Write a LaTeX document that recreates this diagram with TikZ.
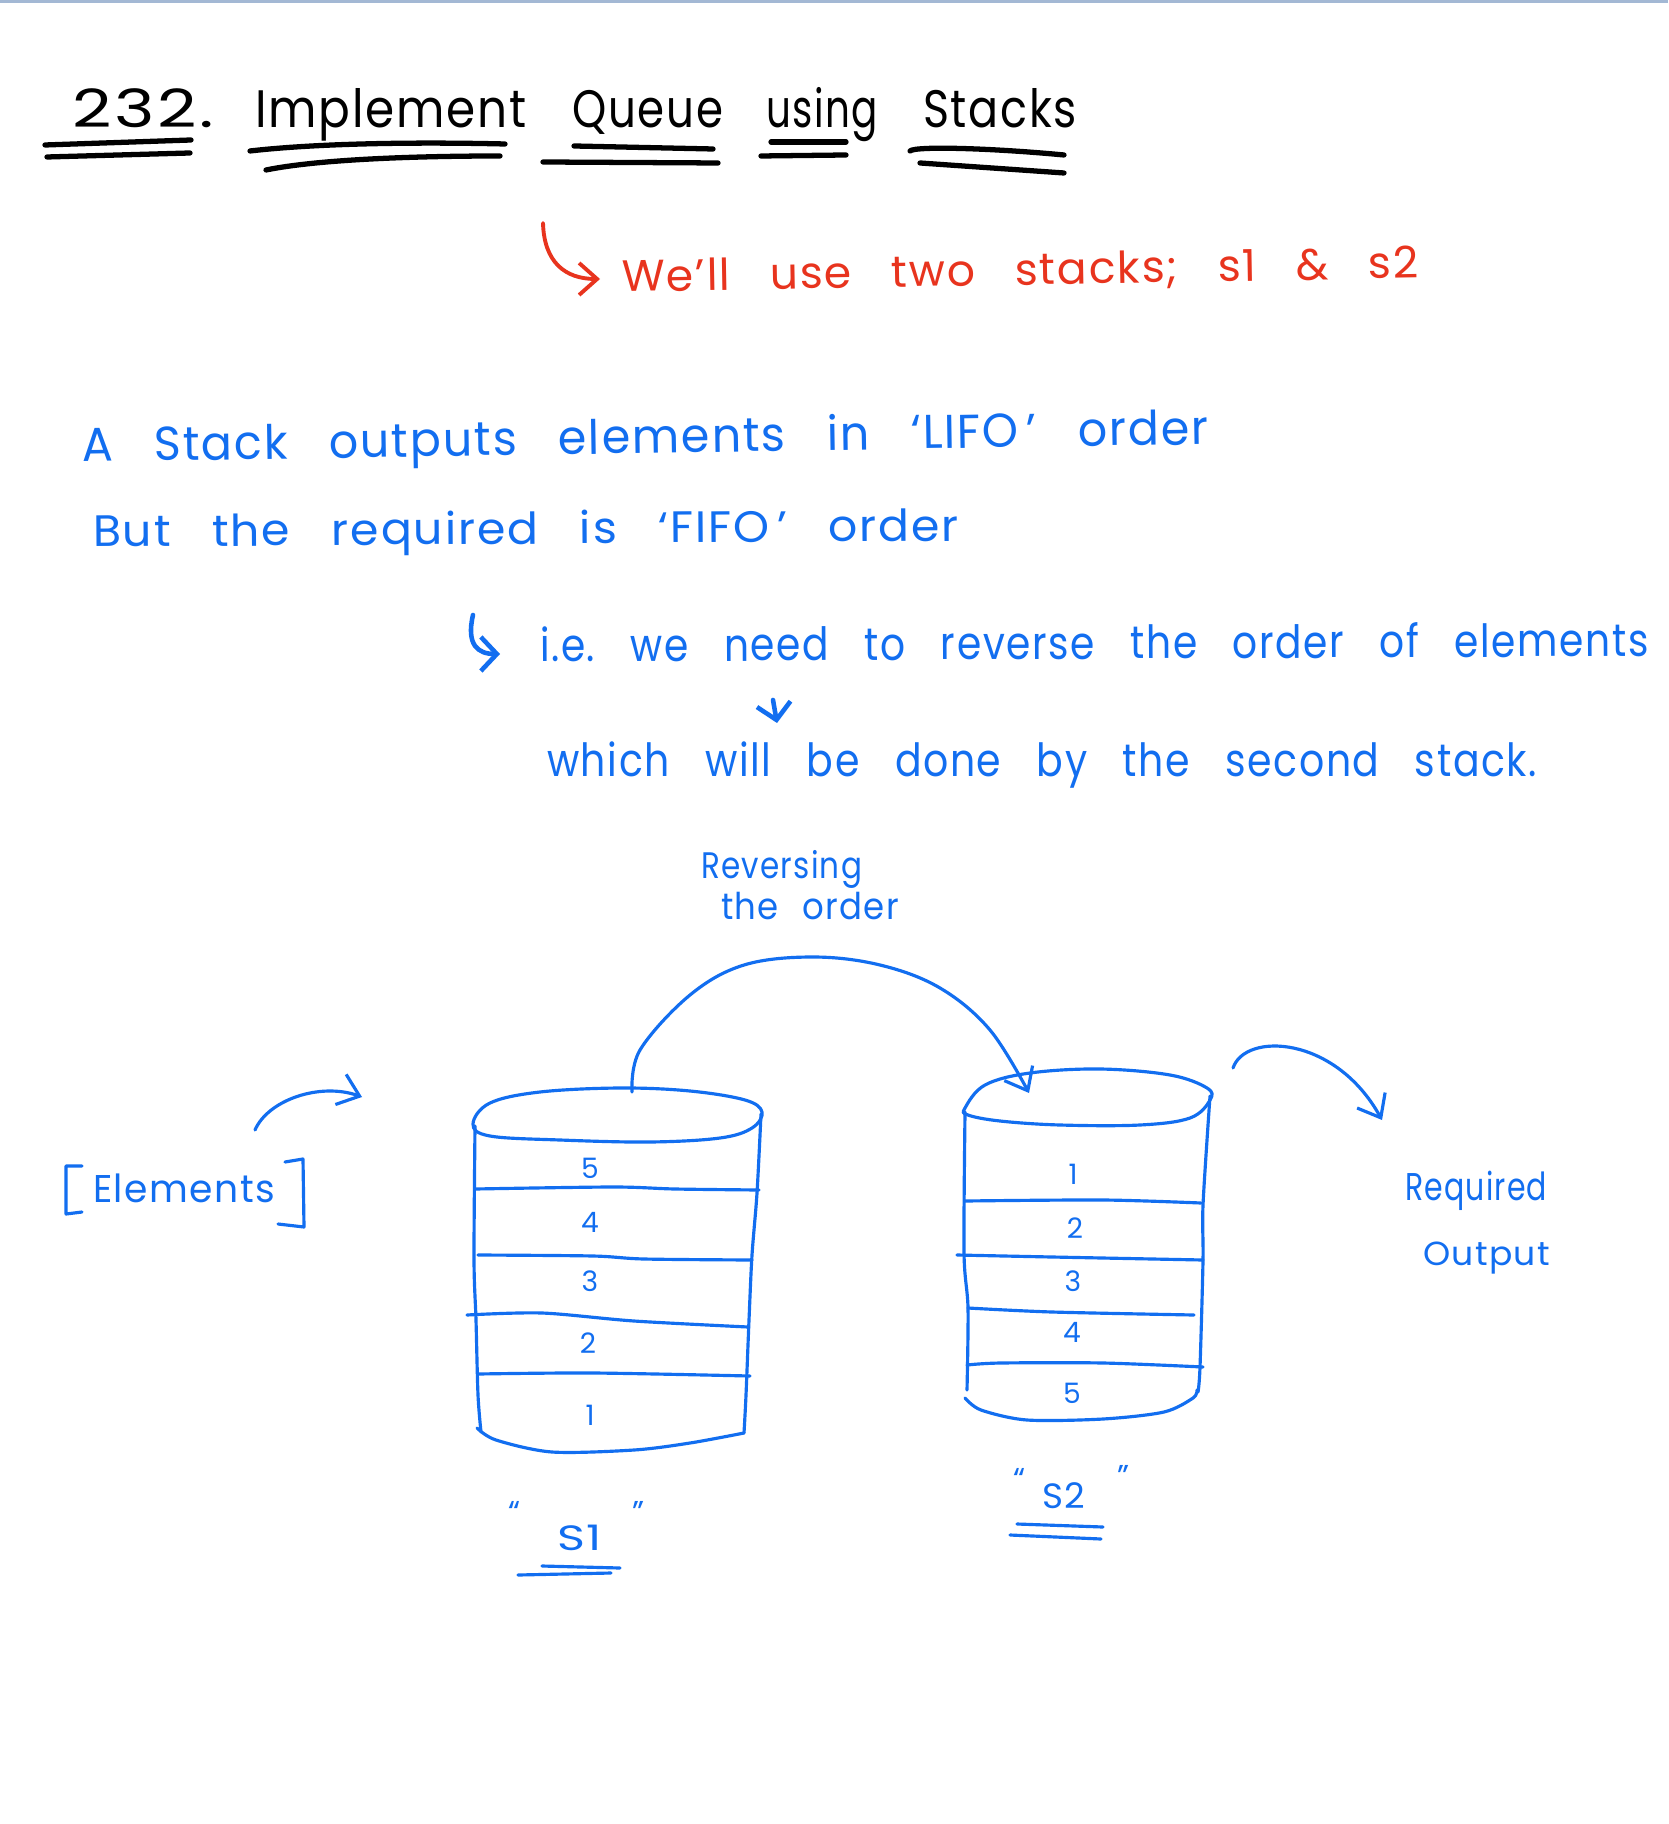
\documentclass[tikz,border=0pt]{standalone}
\usepackage{fontspec}
\usepackage{graphicx}
\usetikzlibrary{arrows.meta}
\newfontfamily\hand[LetterSpace=4]{Poppins}
\definecolor{inkblue}{RGB}{18,110,240}
\definecolor{inkred}{RGB}{232,52,30}
\definecolor{topline}{RGB}{163,184,212}
\newsavebox\fitbox
\newcommand\fitto[2]{\sbox\fitbox{#2}\pgfmathsetmacro\fitratio{#1*0.28453/\the\wd\fitbox}\scalebox{\fitratio}[1]{\usebox\fitbox}}
\newcommand\wg{\hspace{0.9em}}
\tikzset{
  txt/.style={inner sep=0pt, outer sep=0pt, anchor=base west},
  ttl/.style={txt, text=black, font=\hand\fontsize{15}{18}\selectfont},
  redtxt/.style={txt, text=inkred, font=\hand\fontsize{12.5}{15}\selectfont},
  bigblue/.style={txt, text=inkblue, font=\hand\fontsize{13.5}{16}\selectfont},
  smallblue/.style={txt, text=inkblue, font=\hand\fontsize{10.5}{13}\selectfont},
  digit/.style={inner sep=0pt, anchor=center, text=inkblue, font=\hand\fontsize{8}{10}\selectfont},
  uline/.style={draw=black, line width=1.5pt, line cap=round},
  cyl/.style={draw=inkblue, line width=0.9pt, line cap=round, line join=round},
  conn/.style={draw=inkblue, line width=0.9pt, line cap=round, -{Straight Barb[length=2mm,width=3.2mm]}},
  thick conn/.style={draw=inkblue, line width=1.3pt, line cap=round, -{Straight Barb[length=1.6mm,width=3.4mm]}},
}
\begin{document}
\begin{tikzpicture}[x=0.1mm, y=-0.1mm]
\useasboundingbox (0,0) rectangle (1668,1824);
\fill[white] (0,0) rectangle (1668,1824);
\fill[topline] (0,0) rectangle (1668,3);

% ---------- title ----------
\node[ttl] (t232) at (72,128) {\fitto{142}{232.}};
\node[ttl] (timpl) at (255,128) {\fitto{272}{Implement}};
\node[ttl] (tqueue) at (572,128) {\fitto{151}{Queue}};
\node[ttl] (tusing) at (766,128) {\fitto{112}{using}};
\node[ttl] (tstacks) at (923,128) {\fitto{154}{Stacks}};

\draw[uline] (45,145) -- (191,140);
\draw[uline] (47,157) -- (190,153);
\draw[uline] (250,151) .. controls (320,143) and (420,142) .. (505,144);
\draw[uline] (266,170) .. controls (320,159) and (420,156) .. (500,156);
\draw[uline] (574,146) -- (713,149);
\draw[uline] (543,162) -- (718,163);
\draw[uline] (771,142) -- (846,142);
\draw[uline] (761,156) -- (846,155);
\draw[uline] (910,151) .. controls (915,146) and (990,148) .. (1064,155);
\draw[uline] (920,163) -- (1064,173);

% ---------- red note ----------
\node[redtxt, rotate=1] (red) at (622,292) {\fitto{797}{We’ll\wg use\wg two\wg stacks;\wg s1\wg \&\wg s2}};
\coordinate (redstart) at (543,223);
\coordinate (redend) at (600,279);
\draw[draw=inkred, line width=1.1pt, line cap=round, -{Straight Barb[length=1.8mm,width=3.2mm]}]
  (redstart) .. controls (544,262) and (565,279) .. (redend);

% ---------- blue explanation ----------
\node[bigblue, rotate=0.9] (l1) at (82,462) {\fitto{1127}{A\wg Stack\wg outputs\wg elements\wg in\wg ‘LIFO\,’\wg order}};
\node[bigblue, rotate=0.4, font=\hand\fontsize{12.5}{15}\selectfont] (l2) at (93,547) {\fitto{866}{But\wg the\wg required\wg is\wg ‘FIFO\,’\wg order}};
\node[bigblue, rotate=0.3, font=\hand\fontsize{13}{15}\selectfont] (l3) at (540,662) {\fitto{1109}{i.e.\wg we\wg need\wg to\wg reverse\wg the\wg order\wg of\wg elements}};
\node[bigblue, font=\hand\fontsize{13}{15}\selectfont] (l4) at (547,777) {\fitto{990}{which\wg will\wg be\wg done\wg by\wg the\wg second\wg stack.}};

\coordinate (hookstart) at (473,615);
\coordinate (hookend) at (500,654);
\draw[thick conn] (hookstart) .. controls (466,645) and (478,654) .. (hookend);
\coordinate (downstart) at (773,700);
\coordinate (downend) at (777,723);
\draw[thick conn] (downstart) -- (downend);

% ---------- stack S1 ----------
\draw[cyl] plot[smooth cycle, tension=0.6] coordinates {(473,1124) (490,1103) (540,1092) (620,1088) (690,1091) (745,1100) (762,1112) (752,1128) (720,1138) (650,1142) (560,1140) (490,1136)};
\draw[cyl] plot[smooth] coordinates {(475,1126) (474,1260) (476,1320) (478,1395) (481,1432)};
\draw[cyl] plot[smooth] coordinates {(761,1114) (757,1193) (752,1255) (749,1320) (746,1395) (744,1433)};
\draw[cyl] plot[smooth] coordinates {(477,1428) (496,1440) (552,1452) (634,1450) (690,1443) (744,1433)};
\draw[cyl] plot[smooth] coordinates {(475,1189) (613,1187) (675,1189) (759,1190)};
\draw[cyl] plot[smooth] coordinates {(478,1255) (593,1256) (644,1259) (752,1260)};
\draw[cyl] plot[smooth] coordinates {(467,1315) (542,1313) (634,1321) (748,1327)};
\draw[cyl] plot[smooth] coordinates {(478,1374) (593,1373) (750,1376)};
\node[digit] (a5) at (590,1168) {5};
\node[digit] (a4) at (590,1222) {4};
\node[digit] (a3) at (590,1281) {3};
\node[digit] (a2) at (588,1343) {2};
\node[digit] (a1) at (590,1415) {1};

% ---------- stack S2 ----------
\draw[cyl] plot[smooth cycle, tension=0.6] coordinates {(965,1108) (985,1085) (1030,1073) (1100,1069) (1170,1075) (1207,1088) (1210,1100) (1190,1118) (1140,1125) (1060,1125) (1000,1121) (968,1115)};
\draw[cyl] plot[smooth] coordinates {(965,1112) (964,1253) (968,1308) (967,1390)};
\draw[cyl] plot[smooth] coordinates {(1210,1096) (1203,1205) (1203,1260) (1200,1367) (1198,1392)};
\draw[cyl] plot[smooth] coordinates {(965,1398) (981,1410) (1027,1420) (1103,1419) (1164,1412) (1193,1398) (1197,1390)};
\draw[cyl] plot[smooth] coordinates {(965,1201) (1103,1200) (1201,1203)};
\draw[cyl] plot[smooth] coordinates {(957,1255) (1052,1257) (1203,1260)};
\draw[cyl] plot[smooth] coordinates {(968,1308) (1052,1312) (1194,1315)};
\draw[cyl] plot[smooth] coordinates {(967,1365) (1001,1363) (1103,1363) (1203,1367)};
\node[digit] (b1) at (1073,1174) {1};
\node[digit] (b2) at (1075,1228) {2};
\node[digit] (b3) at (1073,1281) {3};
\node[digit] (b4) at (1072,1332) {4};
\node[digit] (b5) at (1072,1393) {5};

% ---------- reversing arc ----------
\coordinate (s1top) at (632,1092);
\coordinate (s2top) at (1029,1093);
\draw[conn] plot[smooth, tension=0.6] coordinates {(s1top) (640,1050) (690,995) (744,965) (813,957) (880,965) (940,988) (990,1030) (s2top)};
\node[smallblue] (rev1) at (701,878) {\fitto{161}{Reversing}};
\node[smallblue] (rev2) at (721,919) {\fitto{178}{the\hspace{0.7em}order}};

% ---------- elements ----------
\node[smallblue, font=\hand\fontsize{11}{13}\selectfont] (elem) at (93,1202) {\fitto{182}{Elements}};
\draw[cyl] (82,1166) -- (66,1166) -- (66,1214) -- (82,1212);
\draw[cyl] (285,1162) -- (303,1159) -- (304,1227) -- (278,1224);
\coordinate (elemarr) at (255,1130);
\coordinate (s1in) at (362,1097);
\draw[conn] (elemarr) .. controls (268,1100) and (320,1082) .. (s1in);

% ---------- required output ----------
\node[smallblue, font=\hand\fontsize{11}{13}\selectfont] (req) at (1405,1200) {\fitto{142}{Required}};
\node[smallblue, font=\hand\fontsize{9.5}{12}\selectfont] (out) at (1423,1265) {\fitto{127}{Output}};
\coordinate (s2out) at (1233,1068);
\coordinate (reqin) at (1382,1120);
\draw[conn] (s2out) .. controls (1245,1032) and (1335,1035) .. (reqin);

% ---------- labels ----------
\node[smallblue, font=\hand\fontsize{10}{12}\selectfont] (s1lab) at (557,1550) {\fitto{45}{S1}};
\node[smallblue, font=\hand\fontsize{9}{10}\selectfont, anchor=center] (s1q1) at (514,1512) {“};
\node[smallblue, font=\hand\fontsize{9}{10}\selectfont, anchor=center] (s1q2) at (638,1512) {”};
\draw[cyl] (542,1566) -- (620,1568);
\draw[cyl] (518,1575) -- (611,1573);
\node[smallblue, font=\hand\fontsize{10}{12}\selectfont] (s2lab) at (1042,1508) {\fitto{43}{S2}};
\node[smallblue, font=\hand\fontsize{9}{10}\selectfont, anchor=center] (s2q1) at (1019,1479) {“};
\node[smallblue, font=\hand\fontsize{9}{10}\selectfont, anchor=center] (s2q2) at (1123,1476) {”};
\draw[cyl] (1017,1524) -- (1103,1527);
\draw[cyl] (1010,1535) -- (1101,1539);
\end{tikzpicture}
\end{document}
